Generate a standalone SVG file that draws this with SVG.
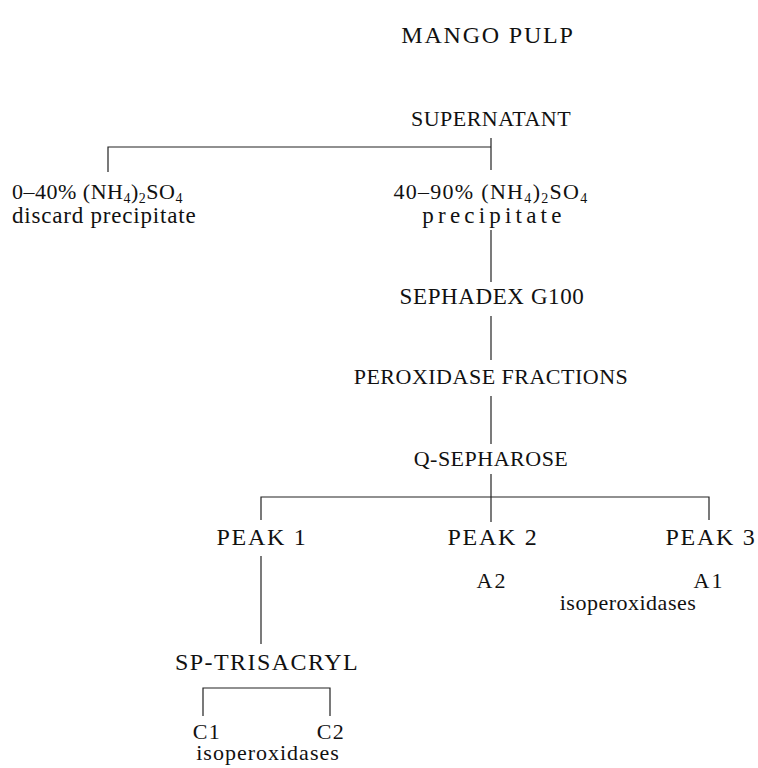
<svg xmlns="http://www.w3.org/2000/svg" width="758" height="768" viewBox="0 0 758 768">
<style>
text{font-family:"Liberation Serif","Times New Roman",serif;font-size:22px;fill:#111;letter-spacing:0.5px}
.c{text-anchor:middle}
.big{font-size:24px}
.sub{font-size:14px}
.ln{stroke:#222;stroke-width:1.2;fill:none}
</style>
<rect width="758" height="768" fill="#fff"/>
<g id="connectors">
<path class="ln" d="M108,172 V147 H491"/>
<path class="ln" d="M491,138 V170"/>
<path class="ln" d="M491,230 V282"/>
<path class="ln" d="M491,316 V360"/>
<path class="ln" d="M491,396 V444"/>
<path class="ln" d="M491,474 V522"/>
<path class="ln" d="M261,520 V497 H709 V520"/>
<path class="ln" d="M261,556 V644"/>
<path class="ln" d="M203,716 V688 H330 V716"/>
</g>
<g id="mango-pulp"><text class="c big" x="488" y="43" style="letter-spacing:1.8px">MANGO PULP</text></g>
<g id="supernatant"><text class="c" x="491" y="126">SUPERNATANT</text></g>
<g id="fraction-0-40">
<text x="12" y="199">0–40% (NH<tspan class="sub" dy="4">4</tspan><tspan dy="-4">)</tspan><tspan class="sub" dy="4">2</tspan><tspan dy="-4">SO</tspan><tspan class="sub" dy="4">4</tspan></text>
<text x="12" y="223" style="font-size:23px;letter-spacing:0.8px">discard precipitate</text>
</g>
<g id="fraction-40-90">
<text class="c" x="491" y="199" style="letter-spacing:1.3px">40–90% (NH<tspan class="sub" dy="4">4</tspan><tspan dy="-4">)</tspan><tspan class="sub" dy="4">2</tspan><tspan dy="-4">SO</tspan><tspan class="sub" dy="4">4</tspan></text>
<text class="c" x="494" y="223" style="font-size:23px;letter-spacing:4.2px">precipitate</text>
</g>
<g id="sephadex"><text class="c" x="492" y="304" style="font-size:23px;letter-spacing:0.6px">SEPHADEX G100</text></g>
<g id="peroxidase-fractions"><text class="c" x="491" y="384">PEROXIDASE FRACTIONS</text></g>
<g id="q-sepharose"><text class="c" x="491" y="466">Q-SEPHAROSE</text></g>
<g id="peak1"><text class="c big" x="262" y="545" style="letter-spacing:1.75px">PEAK 1</text></g>
<g id="peak2"><text class="c big" x="493" y="545" style="letter-spacing:1.75px">PEAK 2</text><text class="c" x="492" y="588" style="letter-spacing:2px">A2</text></g>
<g id="peak3"><text class="c big" x="711" y="545" style="letter-spacing:1.75px">PEAK 3</text><text class="c" x="709" y="588" style="letter-spacing:2px">A1</text></g>
<g id="isoperoxidases-a"><text class="c" x="628" y="610">isoperoxidases</text></g>
<g id="sp-trisacryl"><text class="c big" x="267" y="670" style="letter-spacing:1.45px">SP-TRISACRYL</text></g>
<g id="c1"><text class="c" x="207" y="739" style="letter-spacing:1.5px">C1</text></g>
<g id="c2"><text class="c" x="331" y="739" style="letter-spacing:1.5px">C2</text></g>
<g id="isoperoxidases-c"><text class="c" x="268" y="760" style="letter-spacing:1px">isoperoxidases</text></g>
</svg>
